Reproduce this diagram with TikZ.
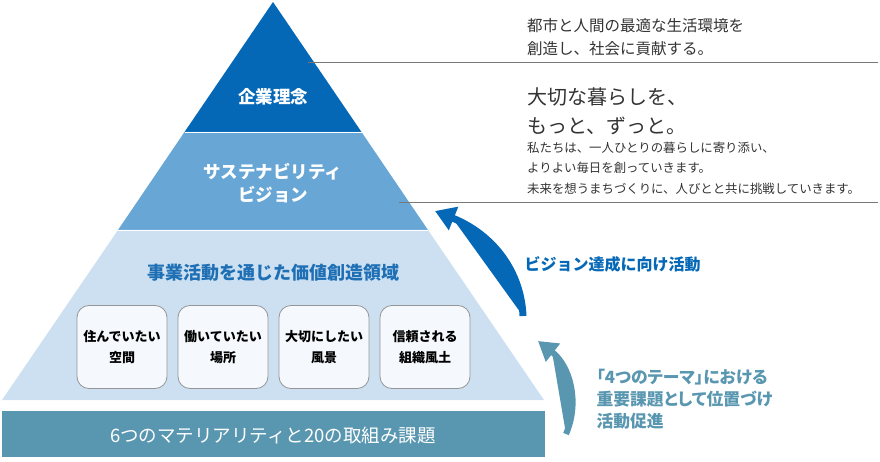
\documentclass[tikz,border=0pt]{standalone}
\usepackage{fontspec}
\setmainfont{Noto Sans CJK JP}
\usetikzlibrary{arrows.meta}
\definecolor{cTop}{RGB}{5,104,183}
\definecolor{cMid}{RGB}{104,166,214}
\definecolor{cLight}{RGB}{204,224,241}
\definecolor{cBar}{RGB}{89,150,176}
\definecolor{cBoxFill}{RGB}{245,249,253}
\definecolor{cBoxLine}{RGB}{150,150,150}
\definecolor{cTitle}{RGB}{31,111,181}
\definecolor{cText}{RGB}{51,51,51}
\definecolor{cRule}{RGB}{120,120,120}
\tikzset{
  bandlabel/.style={text=white, align=center, font=\bfseries\fontsize{17.5}{23}\selectfont},
  valbox/.style={draw=cBoxLine, line width=0.8pt, fill=cBoxFill, rounded corners=12pt,
    minimum width=90pt, minimum height=83pt, align=center, text=black,
    font=\bfseries\fontsize{13}{21}\selectfont, inner sep=0pt},
  righttext/.style={anchor=west, align=left, text=cText, inner sep=0pt},
  rule/.style={draw=cRule, line width=0.8pt},
  bigarrow/.style={line width=7pt, -{Triangle[length=20pt,width=24pt]}},
}
\begin{document}
\begin{tikzpicture}[x=1pt,y=-1pt]
\useasboundingbox (0,0) rectangle (880,462);
% pyramid bands
\fill[cTop] (273,2) -- (361.5,132) -- (184.5,132) -- cycle;
\fill[cMid] (184.5,132) -- (361.5,132) -- (428,230) -- (118,230) -- cycle;
\fill[cLight] (118,230) -- (428,230) -- (544,400) -- (2,400) -- cycle;
\draw[white, line width=0.6pt] (184.5,132) -- (361.5,132);
\draw[white, line width=0.6pt] (118,230) -- (428,230);
% bottom bar
\node[fill=cBar, minimum width=543pt, minimum height=46pt, inner sep=0pt, anchor=north west] (bar) at (2,411) {};
\node[text=white, font=\fontsize{18.5}{22}\selectfont] (bartext) at (273,435) {6つのマテリアリティと20の取組み課題};
% band labels
\node[bandlabel] (rinen) at (273,97) {企業理念};
\node[bandlabel] (vision) at (273,183) {サステナビリティ\\ビジョン};
\node[text=cTitle, font=\bfseries\fontsize{18}{22}\selectfont] (domain) at (273,273) {事業活動を通じた価値創造領域};
% value boxes
\node[valbox] (b1) at (122,347) {住んでいたい\\空間};
\node[valbox] (b2) at (223,347) {働いていたい\\場所};
\node[valbox] (b3) at (324,347) {大切にしたい\\風景};
\node[valbox] (b4) at (425,347) {信頼される\\組織風土};
% rules
\coordinate (r1a) at (308,62);
\coordinate (r1b) at (878,62);
\coordinate (r2a) at (399,202);
\coordinate (r2b) at (878,202);
\draw[rule] (r1a) -- (r1b);
\draw[rule] (r2a) -- (r2b);
% right texts
\node[righttext, font=\fontsize{15.5}{23}\selectfont] (philo) at (527,37.5) {都市と人間の最適な生活環境を\\創造し、社会に貢献する。};
\node[righttext, font=\fontsize{20}{29}\selectfont] (slogan) at (527,111.5) {大切な暮らしを、\\もっと、ずっと。};
\node[righttext, font=\fontsize{12.4}{20.5}\selectfont] (desc) at (527,168) {私たちは、一人ひとりの暮らしに寄り添い、\\よりよい毎日を創っていきます。\\未来を想うまちづくりに、人びとと共に挑戦していきます。};
% arrows
\coordinate (a1s) at (523,316);
\coordinate (a1e) at (435,211);
\draw[bigarrow, draw=cTop, fill=cTop] (a1s) .. controls (521,270) and (492,234) .. (a1e);
\node[anchor=west, text=cTop, font=\bfseries\fontsize{16}{20}\selectfont] (lab1) at (521,264) {ビジョン達成に向け活動};
\coordinate (a2s) at (566,434);
\coordinate (a2e) at (538,341);
\draw[line width=6pt, -{Triangle[length=19pt,width=22pt]}, draw=cBar, fill=cBar] (a2s) .. controls (580,402) and (570,366) .. (a2e);
\node[anchor=west, align=left, text=cBar, font=\bfseries\fontsize{16.8}{22}\selectfont\addfontfeature{RawFeature=+palt}] (lab2) at (593,399) {「4つのテーマ」における\\重要課題として位置づけ\\活動促進};
\end{tikzpicture}
\end{document}
